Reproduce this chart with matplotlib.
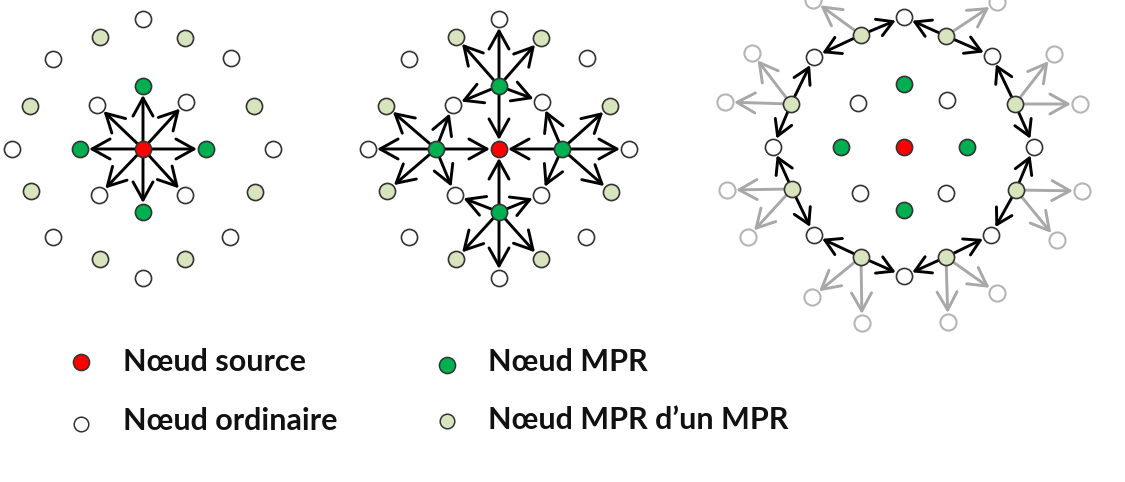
import matplotlib
matplotlib.use("Agg")
import matplotlib.pyplot as plt

# three panels, node positions in pixels (offsets from panel centre)
centers = [(143, 149), (499, 149), (904, 147)]
mpr_off = [(0, -63), (63, 0), (0, 63), (-63, 0)]          # top, right, bottom, left
inner_off = [(-46, -44), (43, -47), (-44, 46), (42, 46)]  # ordinary nodes near source
# outer ring, clockwise from top; even index = ordinary, odd = MPR of an MPR
ring_off = [(0, -130), (42, -111), (88, -91), (111, -43), (130, 0), (112, 43),
            (87, 88), (42, 110), (0, 129), (-43, 110), (-90, 88), (-112, 42),
            (-131, 0), (-113, -43), (-90, -90), (-43, -112)]
# panel 2: targets of each MPR
mpr_ring_targets = [[15, 0, 1], [3, 4, 5], [7, 8, 9], [11, 12, 13]]
mpr_inner_targets = [[0, 1], [1, 3], [3, 2], [2, 0]]
# panel 3: grey nodes reached from each ring MPR (ring index -> offsets from centre)
grey_targets = {
    1: [(43, -175), (93, -145)],
    3: [(176, -43), (150, -93)],
    5: [(178, 44), (153, 93)],
    7: [(44, 175), (93, 146)],
    9: [(-42, 176), (-92, 150)],
    11: [(-177, 43), (-156, 90)],
    13: [(-179, -45), (-152, -94)],
    15: [(-42, -177), (-91, -147)],
}

legend_labels = ["Nœud source", "Nœud MPR", "Nœud ordinaire", "Nœud MPR d\u2019un MPR"]

RED = "#ff0000"
GREEN = "#00b050"
LIGHT = "#d7e4bd"
WHITE = "#ffffff"
EDGE = "#333333"
GREY = "#a8a8a8"

fig = plt.figure(figsize=(11.25, 4.82), dpi=100)
ax = fig.add_axes([0, 0, 1, 1])
ax.set_xlim(0, 1125)
ax.set_ylim(482, 0)
ax.axis("off")

S = 135  # node marker area


def pt(c, off):
    return (c[0] + off[0], c[1] + off[1])


def arrow(a, b, color="black", lw=2.1, hl=0.65, hw=0.36):
    ax.annotate("", xy=b, xytext=a,
                arrowprops=dict(arrowstyle=f"->,head_length={hl},head_width={hw}",
                                color=color, lw=lw, shrinkA=6, shrinkB=6.5,
                                mutation_scale=20), zorder=2)


def nodes(c, offs, color, edge=EDGE, lw=1.2):
    xs = [c[0] + o[0] for o in offs]
    ys = [c[1] + o[1] for o in offs]
    ax.scatter(xs, ys, s=S, c=color, edgecolors=edge, linewidths=lw, zorder=3)


def base_panel(c):
    nodes(c, [(0, 0)], RED)
    nodes(c, mpr_off, GREEN)
    nodes(c, inner_off, WHITE)
    nodes(c, ring_off[0::2], WHITE)
    nodes(c, ring_off[1::2], LIGHT)


# panel 1: source -> neighbours
c = centers[0]
for o in mpr_off + inner_off:
    arrow(c, pt(c, o))
base_panel(c)

# panel 2: MPRs relay
c = centers[1]
for k, m in enumerate(mpr_off):
    src = pt(c, m)
    arrow(src, c)
    for i in mpr_inner_targets[k]:
        arrow(src, pt(c, inner_off[i]))
    for i in mpr_ring_targets[k]:
        arrow(src, pt(c, ring_off[i]))
base_panel(c)

# panel 3: MPRs of MPRs relay
c = centers[2]
for i, gl in grey_targets.items():
    src = pt(c, ring_off[i])
    for j in (i - 1, (i + 1) % 16):
        arrow(src, pt(c, ring_off[j]), hl=0.55, hw=0.32)
    for g in gl:
        arrow(src, pt(c, g), color=GREY)
    xs = [c[0] + g[0] for g in gl]
    ys = [c[1] + g[1] for g in gl]
    ax.scatter(xs, ys, s=S, c=WHITE, edgecolors="#b5b5b5", linewidths=1.5, zorder=3)
base_panel(c)

# legend
leg_marks = [(81, 362, RED, 135), (447, 365, GREEN, 135), (81, 424, WHITE, 110), (447, 421, LIGHT, 110)]
leg_text = [(123, 362), (488, 362), (123, 421), (488, 420)]
for (x, y, col, s), (tx, ty), lab in zip(leg_marks, leg_text, legend_labels):
    ax.scatter([x], [y], s=s, c=col, edgecolors=EDGE, linewidths=1.1, zorder=3)
    ax.text(tx, ty, lab, fontsize=22, fontweight="bold", family="Lato",
            va="center", ha="left", color="#111111")

fig.savefig("out.png", dpi=100)
